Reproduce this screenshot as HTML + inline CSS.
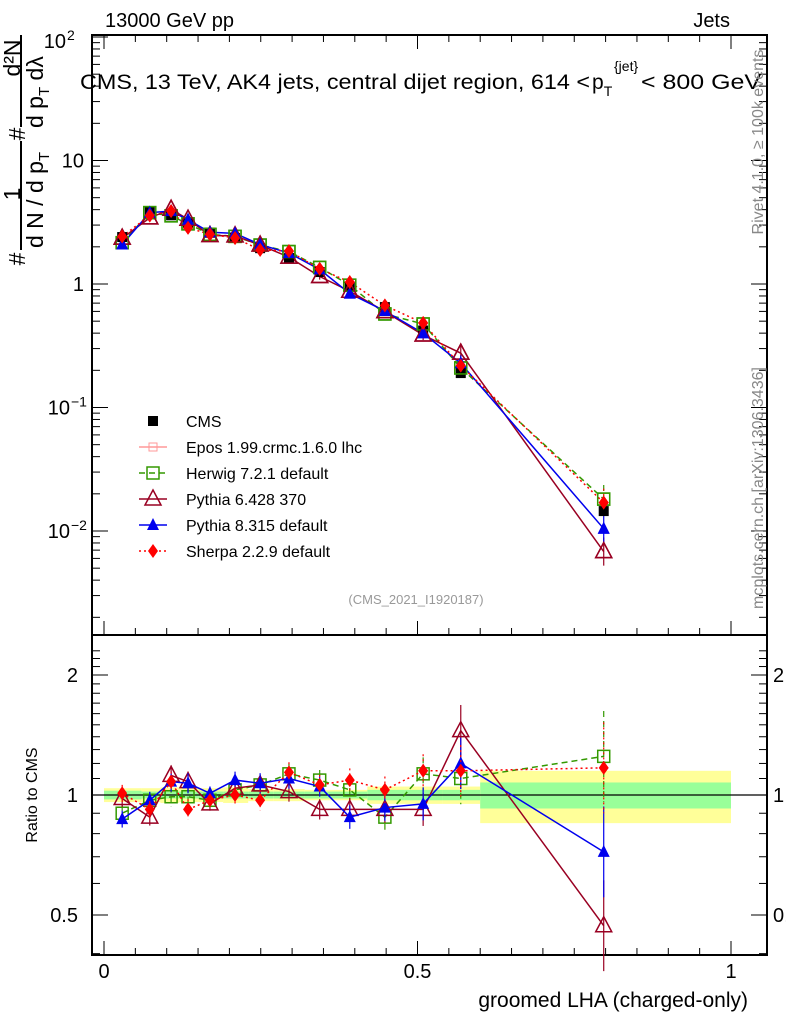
<!DOCTYPE html>
<html><head><meta charset="utf-8"><style>
body{margin:0;background:#fff;}
svg text{font-family:"Liberation Sans",sans-serif;}
</style></head><body>
<svg id="c" width="786" height="1024" xmlns="http://www.w3.org/2000/svg"></svg>
<script>
const xVals=[0.029,0.073,0.107,0.134,0.169,0.209,0.249,0.295,0.344,0.392,0.448,0.509,0.569,0.797];
const binEdges=[0,0.06,0.09,0.12,0.15,0.19,0.23,0.27,0.32,0.37,0.42,0.48,0.54,0.6,1.0];
const cmsVals=[2.4,3.9,3.6,3.1,2.6,2.36,1.95,1.62,1.25,0.95,0.65,0.42,0.19,0.0145];
const greenBand=[0.025,0.02,0.02,0.02,0.02,0.02,0.02,0.02,0.02,0.02,0.03,0.03,0.03,0.075];
const yellowBand=[0.04,0.04,0.045,0.04,0.04,0.045,0.035,0.035,0.03,0.03,0.05,0.05,0.05,0.15];
const herwigRatio=[0.90,0.97,0.99,0.99,0.97,1.03,1.06,1.13,1.09,1.03,0.88,1.13,1.10,1.25];
const pythia6Ratio=[0.98,0.88,1.12,1.08,0.95,1.04,1.06,1.02,0.92,0.92,0.92,0.92,1.45,0.47];
const pythia8Ratio=[0.87,0.97,1.08,1.07,1.01,1.09,1.07,1.10,1.05,0.88,0.93,0.95,1.20,0.72];
const sherpaRatio=[1.01,0.92,1.08,0.92,0.97,1.00,0.97,1.14,1.06,1.09,1.03,1.15,1.15,1.17];
const mcErr=[0.05,0.05,0.06,0.06,0.04,0.05,0.06,0.06,0.06,0.07,0.08,0.1,0.16,0.3];
const mainTicks=[100,10,1,0.1,0.01];
const ratioTicks=[2,1,0.5];
const xTicks=[0,0.5,1];

const NS="http://www.w3.org/2000/svg";
const svg=document.getElementById('c');
function el(t,a,p){const e=document.createElementNS(NS,t);for(const k in a)e.setAttribute(k,a[k]);(p||svg).appendChild(e);return e;}
const L=92,R=767,T=35,M=635,B=955;
const X=v=>104+627*v;
const Y=v=>284-123.5*Math.log10(v);
const YR=r=>795-120*Math.log2(r);

binEdges.slice(0,-1).forEach((e,i)=>{
 const x0=X(e),x1=X(binEdges[i+1]);
 const y=el('rect',{x:x0,y:YR(1+yellowBand[i]),width:x1-x0,height:YR(1-yellowBand[i])-YR(1+yellowBand[i]),fill:'#ffff99'});
 
 
 const g=el('rect',{x:x0,y:YR(1+greenBand[i]),width:x1-x0,height:YR(1-greenBand[i])-YR(1+greenBand[i]),fill:'#99ff99'});
 
 
});
el('line',{x1:L,x2:R,y1:YR(1),y2:YR(1),stroke:'#000','stroke-width':1.2});

const f1=el('rect',{x:L,y:T,width:R-L,height:M-T,fill:'none',stroke:'#000','stroke-width':2});

const f2=el('rect',{x:L,y:M,width:R-L,height:B-M,fill:'none',stroke:'#000','stroke-width':2});


for(let i=0;i<=20;i++){const v=i*0.05,x=X(v),len=(i%10==0)?14:7;
 [M,B].forEach(yb=>{el('line',{x1:x,x2:x,y1:yb,y2:yb-len,stroke:'#000','stroke-width':1});});
 el('line',{x1:x,x2:x,y1:T,y2:T+len,stroke:'#000','stroke-width':1});
}
xTicks.forEach(v=>{const t=el('text',{x:X(v),y:978,'font-size':20,'text-anchor':'middle'});t.textContent=String(v);
 });

for(let d=-3;d<2;d++)for(let m=1;m<10;m++){const v=m*Math.pow(10,d),y=Y(v);if(y<T||y>M)continue;
 const len=m==1?16:8;
 el('line',{x1:L,x2:L+len,y1:y,y2:y,stroke:'#000'});el('line',{x1:R,x2:R-len,y1:y,y2:y,stroke:'#000'});}
el('line',{x1:L,x2:L+16,y1:Y(100),y2:Y(100),stroke:'#000'});
const mainLbl={100:['10','2'],10:['10',''],1:['1',''],0.1:['10','−1'],0.01:['10','−2']};
mainTicks.forEach(v=>{const y=Y(v)+7;const sup=mainLbl[v][1];
 const baseEnd=sup?(v==100?66:70):84;
 const t=el('text',{x:baseEnd,y:y+(v==100?4:0),'font-size':20,'text-anchor':'end'});
 t.textContent=mainLbl[v][0];
 if(sup){const s=el('text',{x:baseEnd+1,y:y-8+(v==100?4:0),'font-size':14});s.textContent=sup;
  }
});
for(let r=0.4;r<=2.31;r+=0.1){const y=YR(r);if(y<M||y>B)continue;const big=[0.5,1,2].some(q=>Math.abs(q-r)<1e-6);const len=big?16:8;
 el('line',{x1:L,x2:L+len,y1:y,y2:y,stroke:'#000'});el('line',{x1:R,x2:R-len,y1:y,y2:y,stroke:'#000'});}
ratioTicks.forEach(r=>{const a=el('text',{x:78,y:YR(r)+7,'font-size':20,'text-anchor':'end'});a.textContent=String(r);
 
 const b=el('text',{x:773,y:YR(r)+7,'font-size':20});b.textContent=String(r);
 });

const series=[
 {name:'herwig',ratio:herwigRatio,color:'#339900',dash:'6,4',marker:'sq'},
 {name:'pythia6',ratio:pythia6Ratio,color:'#990022',dash:'',marker:'otri'},
 {name:'pythia8',ratio:pythia8Ratio,color:'#0000ee',dash:'',marker:'tri'},
 {name:'sherpa',ratio:sherpaRatio,color:'#ff0000',dash:'2,3',marker:'dia'}];
function marker(type,x,y,c,name){let m;
 if(type=='sq')m=el('rect',{x:x-6,y:y-6,width:12,height:12,fill:'none',stroke:c,'stroke-width':1.5});
 if(type=='otri')m=el('polygon',{points:`${x},${y-9} ${x-8},${y+6} ${x+8},${y+6}`,fill:'none',stroke:c,'stroke-width':1.5});
 if(type=='tri')m=el('polygon',{points:`${x},${y-7} ${x-6},${y+5} ${x+6},${y+5}`,fill:c});
 if(type=='dia')m=el('polygon',{points:`${x},${y-7} ${x-5},${y} ${x},${y+7} ${x+5},${y}`,fill:c});
 if(type=='cms')m=el('rect',{x:x-5,y:y-5,width:10,height:10,fill:'#000'});
 return m;}
series.forEach(s=>{
 const mainPts=xVals.map((x,i)=>[X(x),Y(cmsVals[i]*s.ratio[i])]);
 const ratPts=xVals.map((x,i)=>[X(x),YR(s.ratio[i])]);
 [mainPts,ratPts].forEach((pts,k)=>{
  const p=el('polyline',{points:pts.map(q=>q.join(',')).join(' '),fill:'none',stroke:s.color,'stroke-width':1.5,'stroke-dasharray':s.dash});
  
  pts.forEach((q,i)=>{
   const v=k?s.ratio[i]:cmsVals[i]*s.ratio[i];const e=mcErr[i];const fn=k?YR:Y;
   el('line',{x1:q[0],x2:q[0],y1:fn(v*(1+e)),y2:fn(v/(1+e)),stroke:s.color,'stroke-width':1.2,'stroke-dasharray':s.dash});
   marker(s.marker,q[0],q[1],s.color,s.name+(k?'-ratio-point':'-point'));});
 });
});
xVals.forEach((x,i)=>{marker('cms',X(x),Y(cmsVals[i]),'#000','cms-point');});
series.forEach(s=>{xVals.forEach((x,i)=>marker(s.marker,X(x),Y(cmsVals[i]*s.ratio[i]),s.color,s.name+'-point'));});

const leg=[['CMS','cms','#000',''],['Epos 1.99.crmc.1.6.0 lhc','epos','#ff9999',''],['Herwig 7.2.1 default','sq','#339900','6,4'],
 ['Pythia 6.428 370','otri','#990022',''],['Pythia 8.315 default','tri','#0000ee',''],['Sherpa 2.2.9 default','dia','#ff0000','2,3']];
leg.forEach((l,i)=>{const y=421+26*i,x=153;
 if(l[1]!='cms'){el('line',{x1:x-14,x2:x+14,y1:y,y2:y,stroke:l[2],'stroke-width':1.5,'stroke-dasharray':l[3]});}
 if(l[1]=='epos'){const m=el('rect',{x:x-4,y:y-4,width:8,height:8,fill:'none',stroke:l[2]});}
 else marker(l[1],x,y,l[2],'legend-marker');
 const t=el('text',{x:186,y:y+6,'font-size':16});t.textContent=l[0];
 });
</script>
<svg width="786" height="1024" style="position:absolute;left:0;top:0" xmlns="http://www.w3.org/2000/svg">
<text x="105" y="27" font-size="20">13000 GeV pp</text>
<text x="730" y="27" font-size="20" text-anchor="end">Jets</text>
<text x="80" y="89" font-size="21" textLength="510" lengthAdjust="spacingAndGlyphs">CMS, 13 TeV, AK4 jets, central dijet region, 614 &lt;</text>
<text x="592" y="89" font-size="21">p<tspan font-size="14" dy="7">T</tspan></text>
<text x="614" y="71" font-size="14">{jet}</text>
<text x="641" y="89" font-size="21" textLength="120" lengthAdjust="spacingAndGlyphs">&lt; 800 GeV</text>
<text x="416" y="604" font-size="13" fill="#999" text-anchor="middle">(CMS_2021_I1920187)</text>
<text transform="translate(763,142) rotate(-90)" font-size="16" fill="#888" text-anchor="middle">Rivet 4.1.0, ≥ 100k events</text>
<text transform="translate(763,488) rotate(-90)" font-size="16" fill="#888" text-anchor="middle">mcplots.cern.ch [arXiv:1306.3436]</text>
<text transform="translate(37,795) rotate(-90)" font-size="16" text-anchor="middle">Ratio to CMS</text>
<text x="748" y="1007" font-size="21" text-anchor="end">groomed LHA (charged-only)</text>
<g font-size="23">
<text transform="translate(25,259) rotate(-90)" text-anchor="middle">#</text>
<text transform="translate(20,194) rotate(-90)" text-anchor="middle">1</text>
<line x1="21" y1="141" x2="21" y2="250" stroke="#000" stroke-width="2"/>
<text transform="translate(43,248) rotate(-90)" text-anchor="start">d N / d p<tspan font-size="15" dy="6">T</tspan></text>
<text transform="translate(25,134) rotate(-90)" text-anchor="middle">#</text>
<text transform="translate(20,58) rotate(-90)" text-anchor="middle">d²N</text>
<line x1="21" y1="35" x2="21" y2="127" stroke="#000" stroke-width="2"/>
<text transform="translate(43,128) rotate(-90)" text-anchor="start">d p<tspan font-size="15" dy="6">T</tspan><tspan dy="-6"> dλ</tspan></text>
</g>
</svg>
</body></html>
